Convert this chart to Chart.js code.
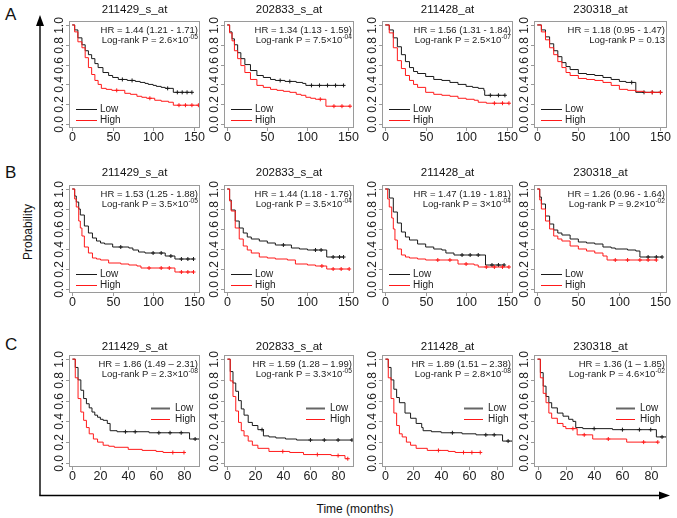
<!DOCTYPE html>
<html>
<head>
<meta charset="utf-8">
<script src="https://cdn.jsdelivr.net/npm/chart.js@4.4.0/dist/chart.umd.min.js"></script>
<style>
  body { margin:0; background:#fff; width:677px; height:518px; overflow:hidden; position:relative;
         font-family:'Liberation Sans', Arial, sans-serif; }
  canvas { position:absolute; }
  .lab { position:absolute; color:#111; line-height:1; white-space:nowrap; }
</style>
</head>
<body>
<svg width="677" height="518" style="position:absolute;left:0;top:0">
  <line x1="40" y1="495.5" x2="40" y2="24" stroke="#000" stroke-width="1.4"/>
  <polygon points="40,15 36,26 44,26" fill="#000"/>
  <line x1="39.3" y1="495.5" x2="661" y2="495.5" stroke="#000" stroke-width="1.4"/>
  <polygon points="670,495.5 659,491.5 659,499.5" fill="#000"/>
</svg>
<div class="lab" style="left:5px;top:6px;font-size:17px">A</div>
<div class="lab" style="left:5px;top:164px;font-size:17px">B</div>
<div class="lab" style="left:5px;top:336px;font-size:17px">C</div>
<div class="lab" style="left:28px;top:232px;font-size:12px;transform:translate(-50%,-50%) rotate(-90deg)">Probability</div>
<div class="lab" style="left:355px;top:509px;font-size:12px;transform:translate(-50%,-50%)">Time (months)</div>

<script>
// ─── Data: KM curves [time, survival]; a repeated survival value = censor mark ───
const a1Low  = [[0,1],[3,0.95],[7,0.87],[12,0.80],[16,0.74],[20,0.70],[24,0.66],[28,0.61],[32,0.57],[38,0.52],[45,0.49],[50,0.47],[57,0.45],[62,0.45],[68,0.44],[74,0.44],[78,0.43],[84,0.42],[90,0.41],[94,0.40],[100,0.39],[104,0.38],[110,0.37],[115,0.36],[118,0.36],[125,0.32],[130,0.32],[136,0.32],[142,0.32],[148,0.32]];
const a1High = [[0,1],[3,0.93],[7,0.83],[12,0.77],[16,0.67],[20,0.57],[24,0.50],[28,0.44],[32,0.40],[36,0.36],[42,0.35],[49,0.34],[55,0.34],[65,0.31],[72,0.30],[80,0.28],[86,0.27],[92,0.26],[96,0.26],[102,0.24],[110,0.23],[119,0.22],[125,0.19],[132,0.19],[140,0.19],[148,0.19],[156,0.19]];
const a2Low  = [[0,1],[3,0.93],[6,0.86],[9,0.80],[13,0.72],[17,0.66],[22,0.60],[29,0.54],[37,0.49],[45,0.47],[54,0.45],[60,0.44],[66,0.44],[72,0.43],[78,0.43],[86,0.42],[94,0.41],[98,0.39],[105,0.39],[115,0.39],[125,0.39],[135,0.39],[145,0.39]];
const a2High = [[0,1],[3,0.92],[6,0.84],[9,0.74],[13,0.66],[17,0.59],[22,0.52],[29,0.45],[37,0.39],[45,0.37],[54,0.35],[62,0.34],[70,0.33],[78,0.32],[86,0.30],[92,0.29],[98,0.27],[104,0.26],[110,0.25],[116,0.25],[123,0.18],[133,0.18],[143,0.18],[153,0.18]];
const a3Low  = [[0,1],[5,0.95],[10,0.87],[15,0.78],[20,0.70],[25,0.63],[30,0.57],[35,0.53],[40,0.51],[50,0.48],[60,0.45],[70,0.44],[80,0.42],[90,0.40],[100,0.38],[108,0.37],[115,0.36],[122,0.34],[123,0.29],[130,0.29],[140,0.29],[148,0.29]];
const a3High = [[0,1],[5,0.92],[10,0.77],[15,0.64],[20,0.56],[25,0.49],[30,0.44],[35,0.40],[40,0.37],[50,0.32],[60,0.30],[70,0.29],[80,0.28],[90,0.26],[100,0.25],[110,0.24],[115,0.22],[125,0.21],[135,0.21],[145,0.21],[153,0.21]];
const a4Low  = [[0,1],[5,0.95],[10,0.88],[15,0.81],[20,0.74],[25,0.68],[30,0.62],[35,0.58],[40,0.55],[50,0.51],[60,0.50],[70,0.49],[80,0.47],[90,0.45],[100,0.43],[108,0.42],[115,0.42],[120,0.32],[130,0.32],[140,0.32],[150,0.32]];
const a4High = [[0,1],[5,0.93],[10,0.85],[15,0.77],[20,0.70],[25,0.63],[30,0.57],[35,0.52],[40,0.49],[50,0.46],[60,0.45],[70,0.44],[80,0.42],[90,0.39],[100,0.35],[110,0.34],[120,0.33],[130,0.32],[140,0.32],[150,0.32]];

const b1Low  = [[0,1],[3,0.93],[5,0.87],[8,0.80],[10,0.74],[15,0.63],[20,0.56],[25,0.51],[30,0.48],[35,0.46],[40,0.45],[50,0.42],[60,0.42],[70,0.41],[75,0.39],[82,0.37],[90,0.36],[100,0.36],[110,0.36],[115,0.33],[122,0.33],[127,0.30],[135,0.30],[143,0.30],[150,0.30]];
const b1High = [[0,1],[3,0.90],[5,0.82],[8,0.68],[10,0.61],[12,0.53],[15,0.42],[20,0.36],[25,0.31],[30,0.30],[35,0.29],[45,0.26],[60,0.25],[70,0.24],[80,0.23],[85,0.21],[95,0.21],[110,0.21],[120,0.21],[127,0.17],[135,0.17],[143,0.17],[150,0.17]];
const b2Low  = [[0,1],[3,0.89],[5,0.79],[10,0.68],[15,0.61],[20,0.56],[25,0.52],[30,0.50],[40,0.48],[50,0.46],[60,0.44],[70,0.44],[80,0.41],[90,0.40],[100,0.39],[110,0.39],[117,0.39],[124,0.32],[132,0.32],[140,0.32],[145,0.32]];
const b2High = [[0,1],[3,0.88],[5,0.78],[10,0.61],[15,0.50],[20,0.43],[25,0.39],[30,0.36],[40,0.32],[50,0.31],[60,0.30],[75,0.29],[85,0.25],[100,0.24],[110,0.23],[118,0.23],[124,0.20],[132,0.20],[142,0.20],[152,0.20]];
const b3Low  = [[0,1],[5,0.91],[10,0.77],[15,0.66],[20,0.57],[25,0.52],[30,0.49],[40,0.45],[50,0.42],[60,0.40],[70,0.39],[75,0.36],[85,0.34],[95,0.34],[105,0.34],[115,0.34],[124,0.24],[132,0.24],[140,0.24],[147,0.24]];
const b3High = [[0,1],[3,0.90],[5,0.82],[8,0.71],[10,0.60],[12,0.49],[15,0.40],[20,0.34],[25,0.32],[30,0.31],[40,0.30],[50,0.29],[65,0.29],[80,0.29],[90,0.25],[100,0.25],[110,0.24],[115,0.22],[125,0.22],[135,0.22],[145,0.22],[153,0.22]];
const b4Low  = [[0,1],[3,0.92],[5,0.85],[10,0.73],[15,0.65],[20,0.59],[25,0.56],[30,0.54],[40,0.50],[50,0.47],[60,0.46],[70,0.45],[80,0.42],[90,0.41],[95,0.40],[110,0.39],[120,0.38],[125,0.32],[135,0.32],[145,0.32],[152,0.32]];
const b4High = [[0,1],[3,0.89],[5,0.80],[10,0.68],[15,0.60],[20,0.53],[25,0.50],[30,0.48],[40,0.43],[50,0.40],[60,0.38],[70,0.36],[80,0.33],[85,0.29],[95,0.29],[110,0.29],[125,0.29],[135,0.29],[145,0.29]];

const c1Low  = [[0,1],[2,0.92],[4,0.80],[6,0.70],[8,0.62],[10,0.57],[12,0.53],[14,0.49],[16,0.46],[18,0.44],[20,0.42],[22,0.41],[25,0.38],[27,0.31],[32,0.30],[38,0.30],[45,0.30],[55,0.29],[62,0.29],[70,0.29],[78,0.29],[84,0.23],[88,0.23],[92,0.23]];
const c1High = [[0,1],[2,0.82],[4,0.62],[6,0.49],[8,0.41],[10,0.34],[12,0.28],[15,0.23],[18,0.20],[22,0.17],[26,0.16],[30,0.15],[40,0.13],[50,0.12],[60,0.11],[65,0.10],[72,0.10],[80,0.10]];
const c2Low  = [[0,1],[2,0.88],[4,0.77],[6,0.69],[8,0.60],[10,0.52],[12,0.46],[15,0.39],[18,0.36],[22,0.32],[25,0.32],[26,0.26],[30,0.25],[35,0.24],[42,0.23],[50,0.22],[60,0.22],[70,0.22],[80,0.22],[90,0.22]];
const c2High = [[0,1],[2,0.79],[4,0.64],[6,0.50],[8,0.39],[10,0.31],[12,0.26],[15,0.21],[18,0.17],[22,0.14],[30,0.11],[40,0.11],[45,0.10],[55,0.08],[65,0.08],[75,0.07],[80,0.07],[85,0.04],[87,0.04]];
const c3Low  = [[0,1],[2,0.92],[4,0.80],[6,0.71],[8,0.63],[10,0.58],[14,0.48],[18,0.43],[22,0.38],[26,0.34],[27,0.31],[33,0.30],[40,0.29],[48,0.29],[55,0.28],[65,0.27],[72,0.27],[78,0.27],[84,0.21],[88,0.21],[92,0.21]];
const c3High = [[0,1],[2,0.82],[4,0.62],[6,0.48],[8,0.36],[10,0.28],[12,0.25],[15,0.20],[18,0.17],[22,0.14],[30,0.12],[38,0.12],[45,0.11],[50,0.10],[56,0.10],[62,0.10],[68,0.10]];
const c4Low  = [[0,1],[2,0.87],[4,0.74],[6,0.64],[8,0.58],[10,0.53],[14,0.48],[18,0.45],[22,0.42],[25,0.40],[27,0.34],[32,0.33],[40,0.33],[53,0.32],[60,0.32],[72,0.32],[80,0.32],[84,0.25],[88,0.25],[92,0.25]];
const c4High = [[0,1],[2,0.82],[4,0.67],[6,0.58],[8,0.48],[10,0.43],[14,0.38],[18,0.35],[20,0.33],[25,0.33],[28,0.27],[33,0.27],[39,0.23],[50,0.23],[63,0.20],[75,0.20],[85,0.20]];

const probes = ['211429_s_at', '202833_s_at', '211428_at', '230318_at'];
const hrA = ['HR = 1.44 (1.21 - 1.71)', 'HR = 1.34 (1.13 - 1.59)', 'HR = 1.56 (1.31 - 1.84)', 'HR = 1.18 (0.95 - 1.47)'];
const hrB = ['HR = 1.53 (1.25 - 1.88)', 'HR = 1.44 (1.18 - 1.76)', 'HR = 1.47 (1.19 - 1.81)', 'HR = 1.26 (0.96 - 1.64)'];
const hrC = ['HR = 1.86 (1.49 \u2013 2.31)', 'HR = 1.59 (1.28 \u2013 1.99)', 'HR = 1.89 (1.51 \u2013 2.38)', 'HR = 1.36 (1 \u2013 1.85)'];
const pBaseA = ['2.6\u00d710', '7.5\u00d710', '2.5\u00d710', '0.13'];
const pExpA  = ['-05', '-04', '-07', ''];
const pBaseB = ['3.5\u00d710', '3.5\u00d710', '3\u00d710', '9.2\u00d710'];
const pExpB  = ['-05', '-04', '-04', '-02'];
const pBaseC = ['2.3\u00d710', '3.3\u00d710', '2.8\u00d710', '4.6\u00d710'];
const pExpC  = ['-08', '-05', '-08', '-02'];
const yTicks   = [0, 0.2, 0.4, 0.6, 0.8, 1.0];
const xTicksAB = [0, 50, 100, 150];
const xTicksC  = [0, 20, 40, 60, 80];
const groups   = ['Low', 'High'];

// ─── Layout ───────────────────────────────────────────────
const FONT = "'Liberation Sans', Arial, sans-serif";
const COL_LEFT  = [69, 224, 382, 534];
const COL_W     = [131, 130, 131, 133];
const ROW_TOP   = [21, 185, 355];
const ROW_H     = [107, 108, 112];
const TITLE_GAP = [11, 12, 8];
const PAD = { left: 26, top: 24, right: 16, bottom: 22 };
const LOW_COLOR = '#1a1a1a', HIGH_COLOR = '#ff1a1a';

const lowSeries  = [[a1Low, a2Low, a3Low, a4Low], [b1Low, b2Low, b3Low, b4Low], [c1Low, c2Low, c3Low, c4Low]];
const highSeries = [[a1High, a2High, a3High, a4High], [b1High, b2High, b3High, b4High], [c1High, c2High, c3High, c4High]];
const hrRows  = [hrA, hrB, hrC];
const pBases  = [pBaseA, pBaseB, pBaseC];
const pExps   = [pExpA, pExpB, pExpC];

// ─── Decoration plugin: box, ticks, title, HR text, legend ──
const kmDecor = {
  id: 'kmDecor',
  afterDatasetsDraw(chart, args, o) {
    const { ctx, chartArea: a, scales: { x, y } } = chart;
    ctx.save();
    ctx.strokeStyle = '#9a9a9a'; ctx.lineWidth = 1;
    ctx.strokeRect(a.left + 0.5, a.top + 0.5, a.right - a.left - 1, a.bottom - a.top - 1);

    ctx.fillStyle = '#222';
    ctx.font = `12px ${FONT}`;
    yTicks.forEach(v => {
      const py = Math.round(y.getPixelForValue(v)) + 0.5;
      ctx.beginPath(); ctx.moveTo(a.left - 3, py); ctx.lineTo(a.left, py); ctx.stroke();
      ctx.save();
      ctx.translate(a.left - 9, py); ctx.rotate(-Math.PI / 2);
      ctx.textAlign = 'center'; ctx.textBaseline = 'middle';
      ctx.fillText(v.toFixed(1), 0, 0);
      ctx.restore();
    });
    ctx.font = `12.5px ${FONT}`;
    ctx.textAlign = 'center'; ctx.textBaseline = 'middle';
    o.xTicks.forEach(v => {
      const px = Math.round(x.getPixelForValue(v)) + 0.5;
      ctx.beginPath(); ctx.moveTo(px, a.bottom); ctx.lineTo(px, a.bottom + 3); ctx.stroke();
      ctx.fillText(String(v), px, a.bottom + 10);
    });

    // title
    ctx.fillStyle = '#111';
    ctx.font = `11.5px ${FONT}`;
    ctx.fillText(o.title, (a.left + a.right) / 2, a.top - o.titleGap);

    // HR + log-rank text
    const fs = 9.5;
    ctx.textBaseline = 'alphabetic'; ctx.textAlign = 'right';
    ctx.font = `${fs}px ${FONT}`;
    ctx.fillStyle = '#222';
    const rx = a.right - 2;
    ctx.fillText(o.hr, rx, a.top + 12);
    const base = 'Log-rank P = ' + o.pBase;
    ctx.font = `${fs * 0.7}px ${FONT}`;
    const we = o.pExp ? ctx.measureText(o.pExp).width : 0;
    if (o.pExp) ctx.fillText(o.pExp, rx, a.top + 22 - fs * 0.4);
    ctx.font = `${fs}px ${FONT}`;
    ctx.fillText(base, rx - we, a.top + 22);

    // legend
    const h = a.bottom - a.top;
    const L = o.legend;
    ctx.textAlign = 'left'; ctx.textBaseline = 'middle';
    ctx.font = `10px ${FONT}`;
    groups.forEach((g, i) => {
      const ly = Math.round(a.top + L.ys[i] * h) + 0.5;
      ctx.strokeStyle = i === 0 ? L.lowColor : HIGH_COLOR;
      ctx.lineWidth = i === 0 ? L.lowWidth : 1;
      ctx.beginPath(); ctx.moveTo(a.left + L.x0, ly); ctx.lineTo(a.left + L.x1, ly); ctx.stroke();
      ctx.fillStyle = '#222';
      ctx.fillText(g, a.left + L.tx, ly);
    });
    ctx.restore();
  }
};

function censorRadius(c) {
  const d = c.dataset.data, i = c.dataIndex;
  return i > 0 && d[i].y === d[i - 1].y ? 2 : 0;
}

function curve(points, color) {
  return {
    data: points.map(p => ({ x: p[0], y: p[1] })),
    borderColor: color, borderWidth: 1, stepped: true, fill: false,
    pointStyle: 'cross', pointRadius: censorRadius, pointBorderColor: color,
    pointBorderWidth: 1, pointHoverRadius: 0,
  };
}

for (let r = 0; r < 3; r++) {
  for (let c = 0; c < 4; c++) {
    const cv = document.createElement('canvas');
    const w = COL_W[c] + PAD.left + PAD.right;
    const hgt = ROW_H[r] + PAD.top + PAD.bottom;
    cv.width = w; cv.height = hgt;
    cv.style.left = (COL_LEFT[c] - PAD.left) + 'px';
    cv.style.top = (ROW_TOP[r] - PAD.top) + 'px';
    document.body.appendChild(cv);

    const isC = r === 2;
    const legend = isC
      ? { ys: [0.47, 0.57], x0: 82, x1: 101, tx: 106, lowColor: '#666', lowWidth: 2 }
      : { ys: [0.822, 0.925], x0: 7, x1: 28, tx: 31, lowColor: LOW_COLOR, lowWidth: 1 };

    new Chart(cv, {
      type: 'line',
      data: { datasets: [curve(highSeries[r][c], HIGH_COLOR), curve(lowSeries[r][c], LOW_COLOR)] },
      options: {
        responsive: false, animation: false, devicePixelRatio: 1, events: [],
        layout: { padding: PAD },
        scales: {
          x: { type: 'linear', display: false, min: isC ? -2.5 : -4, max: isC ? 91.5 : 158 },
          y: { type: 'linear', display: false, min: -0.04, max: 1.04 },
        },
        plugins: {
          legend: { display: false },
          tooltip: { enabled: false },
          kmDecor: {
            title: probes[c], titleGap: TITLE_GAP[r],
            hr: hrRows[r][c], pBase: pBases[r][c], pExp: pExps[r][c],
            xTicks: isC ? xTicksC : xTicksAB, legend,
          },
        },
      },
      plugins: [kmDecor],
    });
  }
}
</script>
</body>
</html>
